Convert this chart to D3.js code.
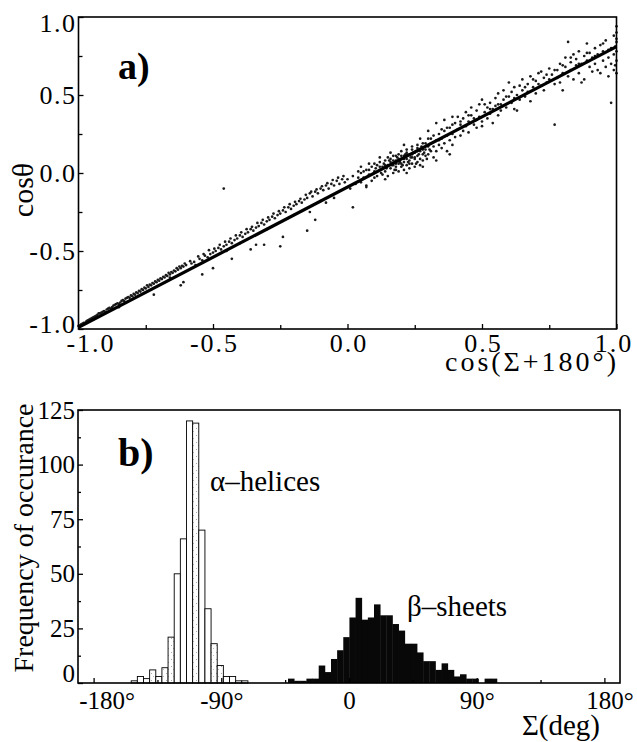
<!DOCTYPE html>
<html>
<head>
<meta charset="utf-8">
<script src="https://cdn.jsdelivr.net/npm/d3@7"></script>
<style>
  html, body { margin: 0; padding: 0; background: #fff; }
  svg { display: block; }
  text { font-family: "Liberation Serif", "Times New Roman", serif; fill: #000; }
</style>
</head>
<body>
<div id="chart"></div>
<script>
// ── Panel a: cos(theta) vs cos(Sigma+180) scatter, with the fitted line ──
const scatterPts = [
  [-1.00,-0.98],[-0.99,-0.97],[-0.98,-0.96],[-0.97,-0.95],[-0.96,-0.94],[-0.95,-0.93],[-0.94,-0.92],[-0.93,-0.91],
  [-0.92,-0.90],[-0.91,-0.89],[-0.90,-0.89],[-0.89,-0.87],[-0.88,-0.87],[-0.87,-0.85],[-0.86,-0.84],[-0.85,-0.84],
  [-0.84,-0.82],[-0.83,-0.82],[-0.82,-0.80],[-0.81,-0.80],[-0.80,-0.79],[-0.79,-0.78],[-0.78,-0.77],[-0.77,-0.76],
  [-0.76,-0.75],[-0.75,-0.74],[-0.74,-0.73],[-0.73,-0.72],[-0.72,-0.71],[-0.71,-0.70],[-0.70,-0.69],[-0.69,-0.68],
  [-0.68,-0.67],[-0.67,-0.66],[-0.66,-0.65],[-0.65,-0.64],[-0.64,-0.63],[-0.63,-0.62],[-0.62,-0.61],[-0.61,-0.60],
  [-0.60,-0.59],[-0.995,-0.985],[-0.975,-0.96],[-0.955,-0.935],[-0.935,-0.915],[-0.915,-0.895],[-0.895,-0.875],
  [-0.875,-0.86],[-0.855,-0.835],[-0.835,-0.815],[-0.815,-0.795],[-0.795,-0.775],[-0.775,-0.755],[-0.755,-0.735],
  [-0.735,-0.715],[-0.715,-0.695],[-0.695,-0.675],[-0.675,-0.655],[-0.655,-0.635],[-0.635,-0.61],[-0.615,-0.595],
  [-0.985,-0.965],[-0.965,-0.945],[-0.945,-0.925],[-0.925,-0.90],[-0.905,-0.885],[-0.885,-0.865],[-0.865,-0.845],
  [-0.845,-0.83],[-0.825,-0.805],[-0.805,-0.785],[-0.785,-0.765],[-0.765,-0.745],[-0.745,-0.72],[-0.725,-0.705],
  [-0.705,-0.685],[-0.685,-0.665],[-0.665,-0.64],[-0.645,-0.625],[-0.625,-0.60],[-0.605,-0.58],
  [-0.72,-0.78],[-0.62,-0.72],[-0.61,-0.70],[-0.85,-0.86],[-0.66,-0.67],
  [-0.58,-0.58],[-0.57,-0.57],[-0.565,-0.59],[-0.55,-0.55],[-0.54,-0.56],[-0.53,-0.53],[-0.52,-0.54],[-0.51,-0.52],
  [-0.50,-0.51],[-0.49,-0.50],[-0.48,-0.48],[-0.47,-0.49],[-0.46,-0.47],[-0.45,-0.46],[-0.44,-0.44],[-0.43,-0.45],
  [-0.42,-0.43],[-0.41,-0.42],[-0.40,-0.40],[-0.39,-0.41],[-0.38,-0.39],[-0.37,-0.38],[-0.36,-0.36],[-0.35,-0.37],
  [-0.34,-0.35],[-0.33,-0.34],[-0.32,-0.32],[-0.31,-0.33],[-0.30,-0.31],[-0.29,-0.30],[-0.28,-0.28],[-0.27,-0.29],
  [-0.26,-0.27],[-0.25,-0.26],[-0.24,-0.24],[-0.23,-0.25],[-0.22,-0.22],[-0.21,-0.23],[-0.20,-0.21],[-0.19,-0.20],
  [-0.18,-0.18],[-0.17,-0.19],[-0.16,-0.17],[-0.15,-0.16],[-0.14,-0.13],[-0.13,-0.15],[-0.12,-0.12],[-0.11,-0.13],
  [-0.10,-0.10],[-0.09,-0.11],[-0.08,-0.08],[-0.07,-0.10],[-0.06,-0.07],[-0.05,-0.08],[-0.04,-0.05],[-0.03,-0.07],
  [-0.02,-0.04],[-0.01,-0.06],
  [-0.585,-0.565],[-0.555,-0.535],[-0.535,-0.52],[-0.515,-0.495],[-0.495,-0.485],[-0.475,-0.46],[-0.455,-0.44],
  [-0.435,-0.42],[-0.415,-0.40],[-0.395,-0.38],[-0.375,-0.36],[-0.355,-0.345],[-0.335,-0.32],[-0.315,-0.30],
  [-0.295,-0.285],[-0.275,-0.26],[-0.255,-0.245],[-0.235,-0.22],[-0.215,-0.20],[-0.195,-0.185],[-0.175,-0.165],
  [-0.155,-0.14],[-0.135,-0.12],[-0.115,-0.105],[-0.095,-0.085],[-0.075,-0.065],[-0.055,-0.045],[-0.035,-0.03],
  [-0.015,-0.02],
  [-0.46,-0.10],[-0.54,-0.65],[-0.50,-0.61],[-0.43,-0.55],[-0.36,-0.49],[-0.34,-0.46],[-0.31,-0.46],[-0.25,-0.47],
  [-0.24,-0.41],[-0.15,-0.37],[-0.12,-0.30],[-0.14,-0.25],[-0.08,-0.19],[0.02,-0.22],[-0.05,-0.16],
  [-0.45,-0.50],[-0.40,-0.45],[-0.30,-0.36],[-0.20,-0.27],[-0.10,-0.18],
  [0.00,-0.04],[0.01,-0.10],[0.02,-0.02],[0.03,-0.07],[0.04,-0.03],[0.05,-0.06],[0.05,0.00],[0.06,-0.03],
  [0.07,-0.08],[0.07,0.02],[0.08,-0.01],[0.09,-0.05],[0.09,0.04],[0.10,0.01],[0.10,-0.03],[0.11,0.05],
  [0.11,-0.02],[0.12,0.02],[0.12,0.07],[0.13,-0.01],[0.13,0.04],[0.14,0.08],[0.14,0.01],[0.15,0.05],
  [0.15,-0.02],[0.15,0.10],[0.16,0.03],[0.16,0.07],[0.17,0.00],[0.17,0.05],[0.17,0.11],[0.18,0.04],
  [0.18,0.08],[0.18,0.02],[0.19,0.06],[0.19,0.12],[0.19,0.01],[0.20,0.09],[0.20,0.04],[0.20,0.14],
  [0.21,0.07],[0.21,0.02],[0.21,0.11],[0.22,0.05],[0.22,0.09],[0.22,0.15],[0.23,0.03],[0.23,0.08],
  [0.23,0.12],[0.24,0.06],[0.24,0.10],[0.24,0.17],[0.25,0.04],[0.25,0.13],[0.25,0.09],[0.26,0.11],
  [0.26,0.07],[0.26,0.16],[0.27,0.14],[0.27,0.09],[0.27,0.05],[0.28,0.12],[0.28,0.19],[0.28,0.08],
  [0.29,0.15],[0.29,0.11],[0.30,0.17],[0.30,0.12],[0.30,0.22],[0.31,0.14],[0.31,0.19],[0.32,0.10],
  [0.32,0.17],[0.33,0.21],[0.33,0.14],[0.34,0.18],[0.34,0.25],[0.35,0.16],[0.35,0.22],[0.36,0.27],
  [0.36,0.19],[0.37,0.24],[0.37,0.14],[0.38,0.21],[0.38,0.29],[0.39,0.25],[0.39,0.18],[0.40,0.32],[0.40,0.23],
  [0.105,0.03],[0.125,0.00],[0.135,0.06],[0.145,0.03],[0.155,0.08],[0.165,0.05],[0.175,0.02],[0.185,0.10],
  [0.195,0.07],[0.205,0.05],[0.215,0.12],[0.225,0.07],[0.235,0.10],[0.245,0.13],[0.255,0.06],[0.265,0.12],
  [0.275,0.17],[0.285,0.13],[0.295,0.09],[0.305,0.15],[0.19,0.09],[0.20,0.06],[0.21,0.09],[0.22,0.12],
  [0.23,0.06],[0.24,0.12],[0.25,0.10],[0.26,0.14],[0.18,0.06],[0.17,0.08],
  [0.14,0.05],[0.16,0.09],[0.18,0.11],[0.20,0.11],[0.22,0.13],[0.24,0.15],[0.26,0.18],[0.28,0.15],
  [0.29,0.19],[0.31,0.22],[0.32,0.24],[0.34,0.21],[0.35,0.28],[0.37,0.29],[0.39,0.31],[0.12,0.04],
  [0.10,0.06],[0.08,0.02],[0.06,0.01],[0.04,0.01],
  [0.05,0.04],[0.08,0.06],[0.12,0.10],[0.16,0.13],[0.21,0.18],[0.27,0.22],[0.30,0.27],[0.33,0.32],
  [0.36,0.34],[0.39,0.36],[0.07,-0.09],[0.14,-0.04],[0.22,0.00],[0.28,0.04],[0.33,0.08],[0.38,0.12],
  [0.41,0.28],[0.41,0.36],[0.42,0.24],[0.42,0.31],[0.43,0.35],[0.43,0.27],[0.44,0.39],[0.44,0.30],
  [0.45,0.33],[0.45,0.26],[0.46,0.37],[0.46,0.42],[0.47,0.31],[0.47,0.35],[0.48,0.40],[0.48,0.29],
  [0.49,0.36],[0.49,0.44],[0.50,0.47],[0.50,0.33],[0.50,0.30],[0.51,0.39],[0.52,0.42],[0.52,0.35],
  [0.53,0.45],[0.53,0.38],[0.54,0.32],[0.54,0.41],[0.55,0.48],[0.55,0.43],[0.56,0.37],[0.56,0.51],
  [0.57,0.44],[0.57,0.40],[0.58,0.47],[0.58,0.53],[0.59,0.42],[0.60,0.58],[0.60,0.49],[0.61,0.45],
  [0.61,0.52],[0.62,0.55],[0.62,0.41],[0.63,0.40],[0.63,0.50],[0.64,0.56],[0.64,0.47],[0.65,0.53],
  [0.65,0.60],[0.66,0.49],[0.67,0.57],[0.67,0.52],[0.68,0.62],[0.68,0.46],[0.69,0.55],[0.70,0.59],
  [0.70,0.51],[0.71,0.64],[0.72,0.65],[0.72,0.56],[0.73,0.53],[0.73,0.61],[0.74,0.58],[0.75,0.67],
  [0.75,0.60],[0.76,0.63],[0.77,0.31],[0.77,0.57],[0.78,0.66],[0.78,0.61],[0.79,0.70],[0.79,0.58],
  [0.80,0.53],[0.80,0.64],
  [0.42,0.33],[0.45,0.37],[0.48,0.34],[0.51,0.44],[0.53,0.41],[0.56,0.44],[0.59,0.49],[0.62,0.48],
  [0.66,0.55],[0.69,0.60],[0.71,0.57],[0.74,0.63],[0.77,0.66],[0.80,0.69],[0.83,0.74],[0.86,0.70],
  [0.89,0.77],[0.92,0.75],[0.95,0.83],[0.97,0.79],
  [0.81,0.68],[0.81,0.74],[0.82,0.84],[0.82,0.62],[0.83,0.66],[0.83,0.71],[0.84,0.60],[0.84,0.76],
  [0.85,0.69],[0.85,0.73],[0.86,0.78],[0.86,0.64],[0.87,0.70],[0.87,0.58],[0.88,0.75],[0.88,0.60],
  [0.89,0.83],[0.89,0.72],[0.90,0.68],[0.90,0.77],[0.91,0.65],[0.91,0.74],[0.92,0.80],[0.92,0.70],
  [0.93,0.66],[0.93,0.76],[0.94,0.64],[0.94,0.82],[0.95,0.72],[0.95,0.78],[0.96,0.68],[0.96,0.85],
  [0.97,0.74],[0.97,0.62],[0.98,0.80],[0.98,0.45],[0.98,0.70],[0.99,0.88],[0.99,0.76],[0.99,0.66],
  [1.00,0.94],[1.00,0.90],[1.00,0.84],[1.00,0.78],[1.00,0.72],[1.00,0.64],[1.00,0.86],[0.995,0.81],[0.995,0.69]
]
const fitLine = [[-1.0, -0.99], [1.0, 0.81]]
const cosTicks = [-1.0, -0.5, 0.0, 0.5, 1.0]
const cosMinorTicks = [-0.75, -0.25, 0.25, 0.75]

// ── Panel b: histogram of Sigma, alpha-helices (open) and beta-sheets (filled) ──
const binWidth = 4.33
const alphaStart = -153.5
const alphaCounts = [1, 3, 2, 6, 3, 7, 21, 50, 66, 120, 119, 70, 34, 18, 8, 3, 3, 1, 1]
const betaStart = -43.0
const betaCounts = [2, 1, 1, 2, 2, 8, 5, 11, 15, 21, 30, 39, 29, 30, 36, 31, 31, 27, 24, 18,
                    18, 14, 10, 10, 6, 9, 6, 3, 4, 2, 2, 0, 2, 2]
const sigmaTicks = [-180, -90, 0, 90, 180]
const sigmaTickLabels = ['-180°', '-90°', '0', '90°', '180°']
const sigmaMinorTicks = [-135, -45, 45, 135]
const freqTicks = [0, 25, 50, 75, 100, 125]
const freqMinorTicks = [12.5, 37.5, 62.5, 87.5, 112.5]

const W = 637, H = 742
const FONT = '"Liberation Serif", "Times New Roman", serif'

const svg = d3.select('#chart').append('svg')
  .attr('width', W).attr('height', H)
  .attr('viewBox', `0 0 ${W} ${H}`)

// light stipple seen inside some of the open bars of the scan
const defs = svg.append('defs')
const stip = defs.append('pattern')
  .attr('id', 'stipple').attr('patternUnits', 'userSpaceOnUse')
  .attr('width', 5).attr('height', 7)
stip.append('rect').attr('width', 5).attr('height', 7).attr('fill', '#fff')
stip.append('rect').attr('x', 1).attr('y', 1).attr('width', 1).attr('height', 1).attr('fill', '#aaa')
stip.append('rect').attr('x', 3).attr('y', 4).attr('width', 1).attr('height', 1).attr('fill', '#bbb')

function styleAxis(sel, size) {
  sel.select('.domain').remove()
  sel.attr('font-family', FONT).attr('font-size', size)
  sel.selectAll('line').attr('stroke', '#000').attr('stroke-width', 1.3)
}

// ── panel a ──
const xA = d3.scaleLinear().domain([-1, 1]).range([78.5, 616.5])
const yA = d3.scaleLinear().domain([-1, 1]).range([329, 17])
const gA = svg.append('g')

gA.append('g').selectAll('circle')
  .data(scatterPts)
  .join('circle')
  .attr('cx', d => xA(d[0]))
  .attr('cy', d => yA(d[1]))
  .attr('r', 1.35)
  .attr('fill', '#1a1a1a')

gA.append('path')
  .datum(fitLine)
  .attr('d', d3.line().x(d => xA(d[0])).y(d => yA(d[1])))
  .attr('stroke', '#000')
  .attr('stroke-width', 3.2)
  .attr('fill', 'none')

gA.append('rect')
  .attr('x', xA(-1)).attr('y', yA(1))
  .attr('width', xA(1) - xA(-1)).attr('height', yA(-1) - yA(1))
  .attr('fill', 'none').attr('stroke', '#000').attr('stroke-width', 1.6)

const fmt1 = d => d.toFixed(1)

const axA_x = gA.append('g').attr('transform', `translate(0,${yA(-1)})`)
  .call(d3.axisBottom(xA).tickValues(cosTicks).tickFormat(fmt1).tickSize(-5).tickPadding(5))
styleAxis(axA_x, 26)
axA_x.attr('letter-spacing', 2)
// first label sits clear of the y axis, last one inside the frame edge
axA_x.selectAll('.tick text').attr('dx', d => d === -1 ? 12 : d === 1 ? -3 : 1)
gA.append('g').attr('transform', `translate(0,${yA(-1)})`)
  .call(d3.axisBottom(xA).tickValues(cosMinorTicks).tickFormat('').tickSize(-4))
  .call(s => styleAxis(s, 26))

const axA_y = gA.append('g').attr('transform', `translate(${xA(-1)},0)`)
  .call(d3.axisLeft(yA).tickValues(cosTicks).tickFormat(fmt1).tickSize(-5).tickPadding(2))
styleAxis(axA_y, 26)
axA_y.attr('letter-spacing', 1.5)
axA_y.selectAll('.tick text').attr('transform', d => d === 1 ? 'translate(0,6)' : d === -1 ? 'translate(0,-5)' : null)
gA.append('g').attr('transform', `translate(${xA(-1)},0)`)
  .call(d3.axisLeft(yA).tickValues(cosMinorTicks).tickFormat('').tickSize(-4))
  .call(s => styleAxis(s, 26))

gA.append('text')
  .attr('x', 118).attr('y', 79)
  .attr('font-size', 38).attr('font-weight', 'bold')
  .text('a)')

gA.append('text')
  .attr('transform', 'translate(33,190) rotate(-90)')
  .attr('text-anchor', 'middle')
  .attr('font-size', 30)
  .text('cosθ')

gA.append('text')
  .attr('x', 445).attr('y', 371)
  .attr('font-size', 28)
  .attr('textLength', 171)
  .attr('lengthAdjust', 'spacing')
  .text('cos(Σ+180°)')

// ── panel b ──
const xB = d3.scaleLinear().domain([-191, 191]).range([78, 620])
const yB = d3.scaleLinear().domain([0, 125]).range([683, 410])
const gB = svg.append('g')

const alphaBins = alphaCounts.map((c, i) => ({ x0: alphaStart + i * binWidth, n: c, i }))
const betaBins = betaCounts.map((c, i) => ({ x0: betaStart + i * binWidth, n: c, i }))
const stippled = [3, 5, 6, 10, 13, 14]

gB.append('g').selectAll('rect')
  .data(alphaBins.filter(b => b.n > 0))
  .join('rect')
  .attr('x', d => xB(d.x0))
  .attr('y', d => yB(d.n))
  .attr('width', d => xB(d.x0 + binWidth) - xB(d.x0))
  .attr('height', d => yB(0) - yB(d.n))
  .attr('fill', d => stippled.includes(d.i) ? 'url(#stipple)' : '#fff')
  .attr('stroke', '#000')
  .attr('stroke-width', 0.9)

gB.append('g').selectAll('rect')
  .data(betaBins.filter(b => b.n > 0))
  .join('rect')
  .attr('x', d => xB(d.x0))
  .attr('y', d => yB(d.n))
  .attr('width', d => xB(d.x0 + binWidth) - xB(d.x0) + 0.4)
  .attr('height', d => yB(0) - yB(d.n))
  .attr('fill', '#080808')

gB.append('rect')
  .attr('x', xB.range()[0]).attr('y', yB(125))
  .attr('width', xB.range()[1] - xB.range()[0]).attr('height', yB(0) - yB(125))
  .attr('fill', 'none').attr('stroke', '#000').attr('stroke-width', 1.6)

const axB_x = gB.append('g').attr('transform', `translate(0,${yB(0)})`)
  .call(d3.axisBottom(xB).tickValues(sigmaTicks).tickFormat((d, i) => sigmaTickLabels[i]).tickSize(-5).tickPadding(8))
styleAxis(axB_x, 25)
axB_x.selectAll('.tick text').attr('dx', d => d === -180 ? 13 : d === 180 ? 5 : 0)
gB.append('g').attr('transform', `translate(0,${yB(0)})`)
  .call(d3.axisBottom(xB).tickValues(sigmaMinorTicks).tickFormat('').tickSize(-3))
  .call(s => styleAxis(s, 25))

const axB_y = gB.append('g').attr('transform', `translate(${xB.range()[0]},0)`)
  .call(d3.axisLeft(yB).tickValues(freqTicks).tickFormat(d => d).tickSize(-5).tickPadding(3))
styleAxis(axB_y, 25)
axB_y.selectAll('.tick text').attr('transform', d => d === 0 ? 'translate(0,-10)' : null)
gB.append('g').attr('transform', `translate(${xB.range()[0]},0)`)
  .call(d3.axisLeft(yB).tickValues(freqMinorTicks).tickFormat('').tickSize(-3))
  .call(s => styleAxis(s, 25))

gB.append('text')
  .attr('x', 118).attr('y', 466)
  .attr('font-size', 40).attr('font-weight', 'bold')
  .text('b)')

gB.append('text')
  .attr('transform', 'translate(33,538) rotate(-90)')
  .attr('text-anchor', 'middle')
  .attr('font-size', 28)
  .text('Frequency of occurance')

gB.append('text')
  .attr('x', 210).attr('y', 491)
  .attr('font-size', 29)
  .text('α–helices')

gB.append('text')
  .attr('x', 407).attr('y', 616)
  .attr('font-size', 29)
  .text('β–sheets')

gB.append('text')
  .attr('x', 600).attr('y', 735)
  .attr('text-anchor', 'end')
  .attr('font-size', 29)
  .text('Σ(deg)')
</script>
</body>
</html>
